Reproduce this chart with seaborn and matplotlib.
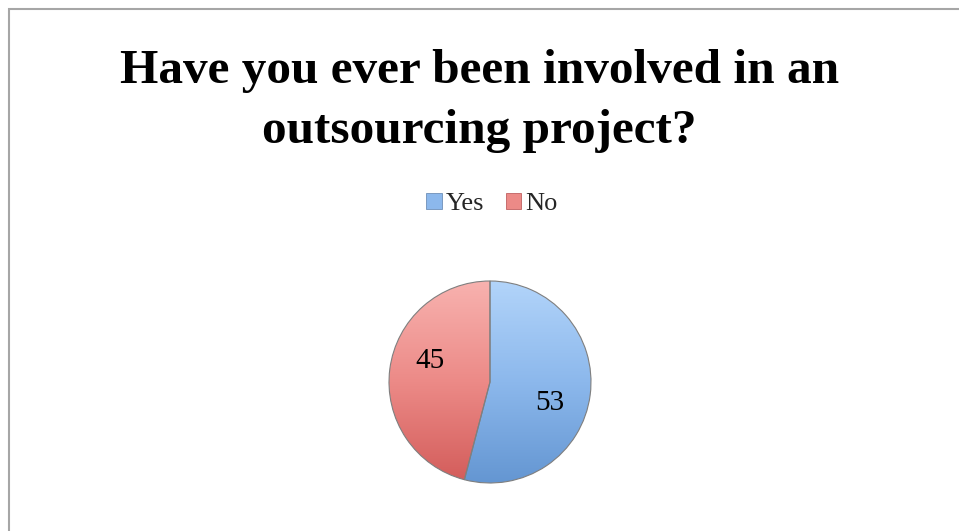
import numpy as np
import matplotlib
matplotlib.use("Agg")
import matplotlib.pyplot as plt
from matplotlib.patches import Patch, Rectangle
from matplotlib.colors import LinearSegmentedColormap
import seaborn as sns

# Survey answers
categories = ["Yes", "No"]
counts = [53, 45]
title_lines = ["Have you ever been involved in an", "outsourcing project?"]

sns.set_theme(style="white")
plt.rcParams["font.family"] = ["Liberation Serif", "DejaVu Serif"]

base_colors = ["#8CB8EC", "#EC8A87"]
top_colors = ["#B2D4FA", "#F8B2AF"]
bottom_colors = ["#6496D2", "#D35C5A"]

W, H = 959, 531
fig = plt.figure(figsize=(W / 100, H / 100), dpi=100)
fig.patch.set_facecolor("white")

# chart frame
fig.add_artist(Rectangle((9 / W, -0.1), 1.2, (H - 9) / H + 0.1,
                         transform=fig.transFigure, fill=False,
                         edgecolor="#A6A6A6", linewidth=1.5))

for line, base_y in zip(title_lines, [83, 143]):
    fig.text(0.5, (H - base_y) / H, line, ha="center", va="baseline",
             fontsize=35.5, fontweight="bold", color="black")

cx, cy, r = 490, H - 382, 101
ax = fig.add_axes([(cx - r) / W, (cy - r) / H, 2 * r / W, 2 * r / H])
wedges, texts = ax.pie(counts, colors=base_colors, startangle=90,
                       counterclock=False, labels=[str(c) for c in counts],
                       labeldistance=0.6,
                       wedgeprops=dict(edgecolor="#7F7F7F", linewidth=0.8),
                       textprops=dict(fontsize=21, color="black"))

# value labels sit a little clockwise of each slice's bisector
for w, t in zip(wedges, texts):
    mid = np.deg2rad((w.theta1 + w.theta2) / 2 - 12)
    t.set_position((0.63 * np.cos(mid), 0.63 * np.sin(mid)))
    t.set_ha("center")
    t.set_va("center")

# glossy vertical shading inside each slice
for w, tc, bc, ec in zip(wedges, top_colors, bottom_colors, base_colors):
    cmap = LinearSegmentedColormap.from_list("g", [bc, ec, tc])
    grad = np.linspace(0, 1, 256).reshape(-1, 1)
    im = ax.imshow(grad, cmap=cmap, extent=(-1, 1, -1, 1), origin="lower",
                   aspect="auto", zorder=w.get_zorder() + 0.1)
    im.set_clip_path(w)
for w in wedges:
    w.set_facecolor("none")
    w.set_zorder(3)
for t in texts:
    t.set_zorder(4)
ax.set_xlim(-1, 1)
ax.set_ylim(-1, 1)
ax.set_aspect("auto")
ax.axis("off")

handles = [Patch(facecolor=c, edgecolor="#6E8FB8" if i == 0 else "#C06060",
                 linewidth=0.6)
           for i, c in enumerate(base_colors)]
fig.legend(handles, categories, loc="center", bbox_to_anchor=(492 / W, (H - 204) / H),
           ncol=2, frameon=False, fontsize=19, handlelength=0.6, handleheight=0.6,
           handletextpad=0.15, columnspacing=0.8)

fig.savefig("out.png", dpi=100, facecolor="white")
